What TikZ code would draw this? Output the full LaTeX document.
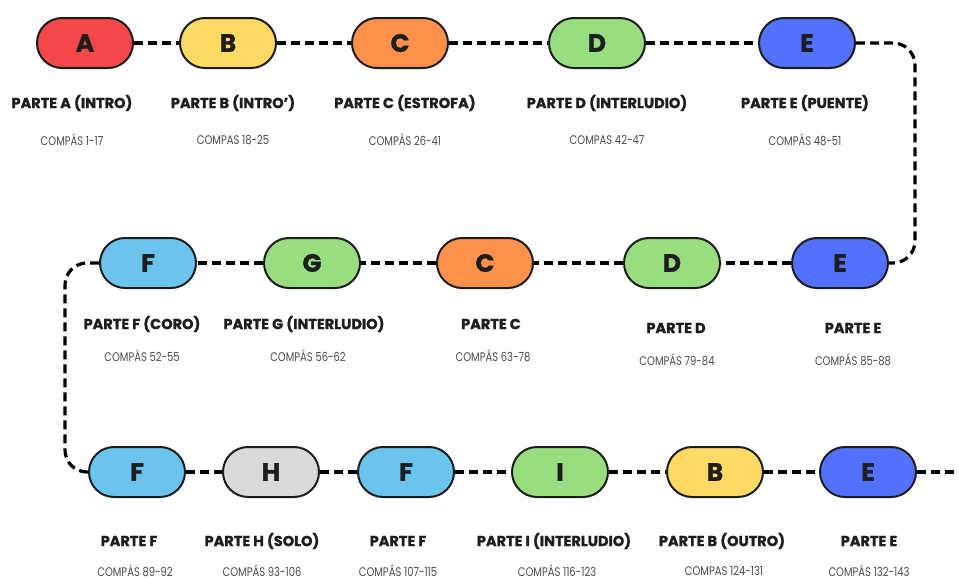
\documentclass[tikz,border=0pt]{standalone}
\usepackage{fontspec}
\setmainfont{Poppins}
\newfontfamily\titlefont[BoldFeatures={FakeBold=1.3}]{Poppins}
\newfontfamily\compfont[FakeStretch=0.8]{Poppins}
\definecolor{cA}{RGB}{243,72,74}
\definecolor{cB}{RGB}{255,217,102}
\definecolor{cC}{RGB}{255,145,77}
\definecolor{cD}{RGB}{152,222,128}
\definecolor{cE}{RGB}{82,113,255}
\definecolor{cF}{RGB}{106,196,238}
\definecolor{cH}{RGB}{217,217,217}
\definecolor{edge}{RGB}{28,28,28}
\definecolor{txt}{RGB}{30,30,30}
\definecolor{sub}{RGB}{75,75,75}
\tikzset{
  pill/.style={draw=edge, line width=2pt, rounded corners=25pt, minimum width=96pt, minimum height=50pt, inner sep=0pt, font=\titlefont\fontsize{25}{25}\selectfont\bfseries, text=txt},
  ptitle/.style={font=\titlefont\fontsize{14.5}{15}\selectfont\bfseries, text=txt, inner sep=0pt},
  pcomp/.style={font=\compfont\fontsize{12.5}{13}\selectfont, text=sub, inner sep=0pt},
  conn/.style={draw=black, line width=3.2pt, dash pattern=on 9pt off 5pt, rounded corners=22pt}
}
\begin{document}
\begin{tikzpicture}[x=1pt,y=-1pt]
\useasboundingbox[fill=white] (0,0) rectangle (959,581);
% row 1
\node[pill, fill=cA] (a1) at (85,43) {A};
\node[pill, fill=cB] (b1) at (228,43) {B};
\node[pill, fill=cC] (c1) at (400,43) {C};
\node[pill, fill=cD] (d1) at (597,43) {D};
\node[pill, fill=cE] (e1) at (807,43) {E};
% row 2
\node[pill, fill=cF] (f2) at (148,263) {F};
\node[pill, fill=cD] (g2) at (312,263) {G};
\node[pill, fill=cC] (c2) at (485,263) {C};
\node[pill, fill=cD] (d2) at (672,263) {D};
\node[pill, fill=cE] (e2) at (840,263) {E};
% row 3
\node[pill, fill=cF] (f3) at (137,472) {F};
\node[pill, fill=cH] (h3) at (271,472) {H};
\node[pill, fill=cF] (f4) at (406,472) {F};
\node[pill, fill=cD] (i3) at (560,472) {I};
\node[pill, fill=cB] (b3) at (715,472) {B};
\node[pill, fill=cE] (e3) at (868,472) {E};
% helper coordinates
\coordinate (rc) at (915,150);
\coordinate (lc) at (65,370);
\coordinate (endr) at (959,472);
% connectors
\draw[conn] (a1) -- (b1);
\draw[conn] (b1) -- (c1);
\draw[conn] (c1) -- (d1);
\draw[conn] (d1) -- (e1);
\draw[conn] (e1.east) -| (rc) |- (e2.east);
\draw[conn] (e2) -- (d2);
\draw[conn] (d2) -- (c2);
\draw[conn] (c2) -- (g2);
\draw[conn] (g2) -- (f2);
\draw[conn] (f2.west) -| (lc) |- (f3.west);
\draw[conn] (f3) -- (h3);
\draw[conn] (h3) -- (f4);
\draw[conn] (f4) -- (i3);
\draw[conn] (i3) -- (b3);
\draw[conn] (b3) -- (e3);
\draw[conn] (e3.east) -- (endr);
% labels row 1
\node[ptitle] (ta1) at (72,103) {PARTE A (INTRO)};
\node[pcomp] (sa1) at (72,140) {COMPÁS 1-17};
\node[ptitle] (tb1) at (233,103) {PARTE B (INTRO’)};
\node[pcomp] (sb1) at (233,140) {COMPAS 18-25};
\node[ptitle] (tc1) at (405,103) {PARTE C (ESTROFA)};
\node[pcomp] (sc1) at (405,140) {COMPÁS 26-41};
\node[ptitle] (td1) at (607,103) {PARTE D (INTERLUDIO)};
\node[pcomp] (sd1) at (607,140) {COMPAS 42-47};
\node[ptitle] (te1) at (805,103) {PARTE E (PUENTE)};
\node[pcomp] (se1) at (805,140) {COMPÁS 48-51};
% labels row 2
\node[ptitle] (tf2) at (142,324) {PARTE F (CORO)};
\node[pcomp] (sf2) at (142,356) {COMPÁS 52-55};
\node[ptitle] (tg2) at (304,324) {PARTE G (INTERLUDIO)};
\node[pcomp] (sg2) at (308,356) {COMPÁS 56-62};
\node[ptitle] (tc2) at (491,324) {PARTE C};
\node[pcomp] (sc2) at (493,356) {COMPÁS 63-78};
\node[ptitle] (td2) at (676,328) {PARTE D};
\node[pcomp] (sd2) at (677,360) {COMPÁS 79-84};
\node[ptitle] (te2) at (853,328) {PARTE E};
\node[pcomp] (se2) at (853,360) {COMPÁS 85-88};
% labels row 3
\node[ptitle] (tf3) at (129,541) {PARTE F};
\node[pcomp] (sf3) at (135,571) {COMPÁS 89-92};
\node[ptitle] (th3) at (262,541) {PARTE H (SOLO)};
\node[pcomp] (sh3) at (262,571) {COMPÁS 93-106};
\node[ptitle] (tf4) at (398,541) {PARTE F};
\node[pcomp] (sf4) at (398,571) {COMPÁS 107-115};
\node[ptitle] (ti3) at (554,541) {PARTE I (INTERLUDIO)};
\node[pcomp] (si3) at (557,571) {COMPÁS 116-123};
\node[ptitle] (tb3) at (722,541) {PARTE B (OUTRO)};
\node[pcomp] (sb3) at (724,571) {COMPAS 124-131};
\node[ptitle] (te3) at (869,541) {PARTE E};
\node[pcomp] (se3) at (869,571) {COMPÁS 132-143};
\end{tikzpicture}
\end{document}
